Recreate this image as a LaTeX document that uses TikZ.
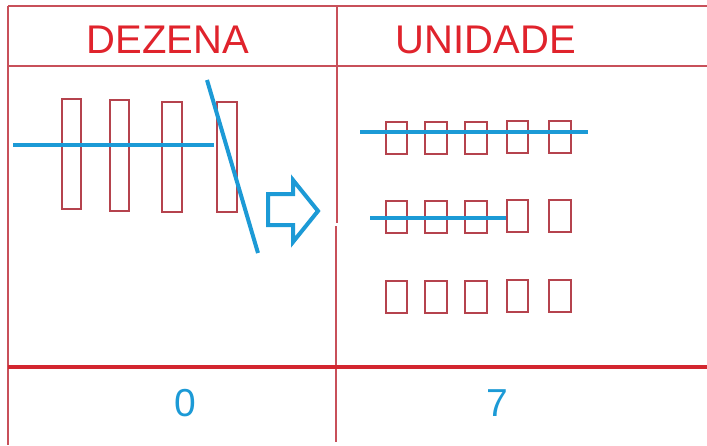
\documentclass[tikz,border=0pt]{standalone}
\usepackage{fontspec}
\setmainfont{Liberation Sans}
\usepackage{xcolor}
\usepackage{tikz}
\usetikzlibrary{positioning}

\definecolor{rulered}{HTML}{C8505A}
\definecolor{thickred}{HTML}{D3262F}
\definecolor{boxred}{HTML}{B5434D}
\definecolor{titlered}{HTML}{E0232C}
\definecolor{myblue}{HTML}{1C9AD6}

\begin{document}
\begin{tikzpicture}[x=1pt,y=-1pt,
                          tablerule/.style={line width=1.6pt, rulered},
                          thickrule/.style={line width=4.5pt, thickred},
                          stick/.style={line width=1.4pt, boxred},
                          strike/.style={line width=4pt, myblue},
                          header/.style={inner sep=0pt, text=titlered, font=\fontsize{40}{40}\selectfont},
                          digit/.style={inner sep=0pt, text=myblue, font=\fontsize{39}{39}\selectfont},
                         ]

\useasboundingbox[fill=white] (0,0) rectangle (707,445);

% table
\draw[tablerule] (8,6) -- (707,6);
\draw[tablerule] (8,66) -- (707,66);
\draw[tablerule] (8,6) -- (8,445);
\draw[tablerule] (337,6) -- (337,223);
\draw[tablerule] (336,226) -- (336,442);
\draw[thickrule] (8,367) -- (707,367);

\node[header] (dezena) at (168,40) {DEZENA};
\node[header] (unidade) at (486,40) {UNIDADE};

% dezenas
\draw[stick] (62,99) rectangle (81,209);
\draw[stick] (110,100) rectangle (129,211);
\draw[stick] (162,102) rectangle (182,212);
\draw[stick] (217,102) rectangle (237,212);

\draw[strike] (13,145) -- (214,145);
\draw[strike] (207,80) -- (258,253);

% arrow
\draw[line width=4pt, myblue, line join=miter]
  (268,194) -- (293,194) -- (293,180) -- (318,211) -- (293,242) -- (293,225) -- (268,225) -- cycle;

% unidades
\draw[stick] (386,122) rectangle (407,154);
\draw[stick] (425,122) rectangle (447,154);
\draw[stick] (465,122) rectangle (487,154);
\draw[stick] (507,121) rectangle (528,153);
\draw[stick] (549,121) rectangle (571,153);

\draw[stick] (386,201) rectangle (407,233);
\draw[stick] (425,201) rectangle (447,233);
\draw[stick] (465,201) rectangle (487,233);
\draw[stick] (507,200) rectangle (528,232);
\draw[stick] (549,200) rectangle (571,232);

\draw[stick] (386,281) rectangle (407,313);
\draw[stick] (425,281) rectangle (447,313);
\draw[stick] (465,281) rectangle (487,313);
\draw[stick] (507,280) rectangle (528,312);
\draw[stick] (549,280) rectangle (571,312);

\draw[strike] (360,132) -- (588,132);
\draw[strike] (370,218) -- (506,218);

% result
\node[digit] (zero) at (185,403) {0};
\node[digit] (sete) at (497,403) {7};

\end{tikzpicture}
\end{document}
